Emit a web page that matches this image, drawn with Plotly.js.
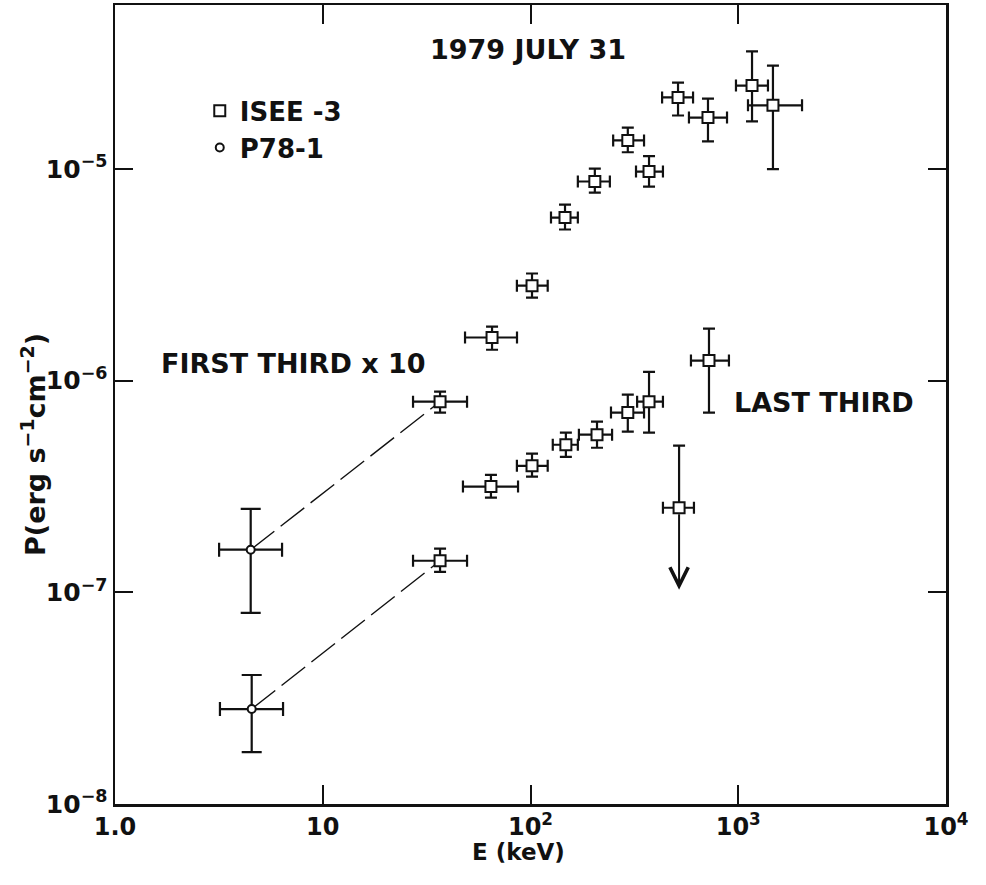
<!DOCTYPE html>
<html>
<head>
<meta charset="utf-8">
<script src="https://cdn.plot.ly/plotly-3.0.1.min.js"></script>
<style>html,body{margin:0;padding:0;background:#fff;}#chart{width:986px;height:885px;}</style>
</head>
<body>
<div id="chart"></div>
<script>
// ---- Data ----
// ISEE-3, first third of the burst (x 10)
var E_first    = [36.7, 65.3, 101.7, 146.6, 204, 294, 372, 513, 715, 1165, 1469];
var E_first_lo = [27.2, 48.4, 86, 125.5, 169, 250, 322, 430, 579, 975, 1114];
var E_first_hi = [49.5, 86.1, 121, 169, 241, 352, 434, 606, 883, 1390, 2028];
var P_first    = [7.96e-7, 1.60e-6, 2.81e-6, 5.90e-6, 8.73e-6, 1.365e-5, 9.73e-6, 2.18e-5, 1.75e-5, 2.48e-5, 2.0e-5];
var P_first_lo = [7.07e-7, 1.40e-6, 2.47e-6, 5.18e-6, 7.74e-6, 1.20e-5, 8.26e-6, 1.79e-5, 1.35e-5, 1.68e-5, 1.0e-5];
var P_first_hi = [8.87e-7, 1.80e-6, 3.21e-6, 6.79e-6, 1.005e-5, 1.57e-5, 1.15e-5, 2.56e-5, 2.15e-5, 3.60e-5, 3.08e-5];

// ISEE-3, last third of the burst
var E_last    = [36.7, 64.5, 101.7, 148, 209, 294, 372, 723];
var E_last_lo = [27.2, 47.3, 86, 128, 171, 244, 326, 592];
var E_last_hi = [49.5, 87.1, 121, 169, 247, 352, 434, 902];
var P_last    = [1.41e-7, 3.16e-7, 3.96e-7, 4.98e-7, 5.56e-7, 7.07e-7, 7.96e-7, 1.245e-6];
var P_last_lo = [1.25e-7, 2.80e-7, 3.52e-7, 4.37e-7, 4.82e-7, 5.74e-7, 5.68e-7, 7.07e-7];
var P_last_hi = [1.61e-7, 3.59e-7, 4.52e-7, 5.68e-7, 6.40e-7, 8.59e-7, 1.10e-6, 1.76e-6];

// ISEE-3, last third: upper limit point
var E_lim    = [519];
var E_lim_lo = [434];
var E_lim_hi = [612];
var P_lim    = [2.51e-7];
var P_lim_hi = [4.93e-7];
var P_lim_arrow = [1.03e-7];

// P78-1 (first third x10, last third)
var E_p78    = [4.5, 4.55];
var E_p78_lo = [3.17, 3.2];
var E_p78_hi = [6.37, 6.44];
var P_p78    = [1.59e-7, 2.81e-8];
var P_p78_lo = [8.0e-8, 1.76e-8];
var P_p78_hi = [2.48e-7, 4.07e-8];

// Tick labels
var xTickVals = [1, 10, 100, 1000, 10000];
var xTickText = ['1.0', '10', '10<sup>2</sup>', '10<sup>3</sup>', '10<sup>4</sup>'];
var yTickVals = [1e-8, 1e-7, 1e-6, 1e-5];
var yTickText = ['10<sup>\u22128</sup>', '10<sup>\u22127</sup>', '10<sup>\u22126</sup>', '10<sup>\u22125</sup>'];

// ---- helpers ----
function diff(a, b) { return a.map(function (v, i) { return Math.abs(v - b[i]); }); }
var FONT = 'DejaVu Sans, Verdana, sans-serif';
var black = '#111';

function errX(val, lo, hi, w) {
  return {type: 'data', symmetric: false, array: diff(hi, val), arrayminus: diff(val, lo),
          color: black, thickness: 2.2, width: w};
}
function errY(val, lo, hi, w) {
  return {type: 'data', symmetric: false, array: diff(hi, val), arrayminus: diff(val, lo),
          color: black, thickness: 2.2, width: w};
}
var sqMarker = {symbol: 'square', size: 11, color: '#fff', line: {color: black, width: 2}};
var ciMarker = {symbol: 'circle', size: 8, color: '#fff', line: {color: black, width: 2}};
var dashLine = {color: black, width: 1.4, dash: '30px,8px'};

var traces = [
  // dashed connecting lines (P78-1 to first ISEE-3 point)
  {x: [E_p78[0], E_first[0]], y: [P_p78[0], P_first[0]], mode: 'lines', showlegend: false,
   line: dashLine, hoverinfo: 'skip'},
  {x: [E_p78[1], E_last[0]], y: [P_p78[1], P_last[0]], mode: 'lines', showlegend: false,
   line: dashLine, hoverinfo: 'skip'},
  {x: E_first, y: P_first, mode: 'markers', name: 'ISEE -3', legendgroup: 'isee',
   marker: sqMarker, error_x: errX(E_first, E_first_lo, E_first_hi, 6),
   error_y: errY(P_first, P_first_lo, P_first_hi, 6)},
  {x: E_last, y: P_last, mode: 'markers', name: 'ISEE -3 last', legendgroup: 'isee', showlegend: false,
   marker: sqMarker, error_x: errX(E_last, E_last_lo, E_last_hi, 6),
   error_y: errY(P_last, P_last_lo, P_last_hi, 6)},
  {x: E_lim, y: P_lim, mode: 'markers', name: 'ISEE -3 limit', legendgroup: 'isee', showlegend: false,
   marker: sqMarker, error_x: errX(E_lim, E_lim_lo, E_lim_hi, 6),
   error_y: {type: 'data', symmetric: false, array: diff(P_lim_hi, P_lim), arrayminus: [0],
             color: black, thickness: 2.2, width: 6}},
  {x: E_p78, y: P_p78, mode: 'markers', name: 'P78-1',
   marker: ciMarker, error_x: errX(E_p78, E_p78_lo, E_p78_hi, 7),
   error_y: errY(P_p78, P_p78_lo, P_p78_hi, 10)}
];

var textFont = {family: FONT, size: 27, color: black, weight: 700};

var layout = {
  width: 986, height: 885,
  margin: {l: 115, r: 40, t: 5, b: 81},
  paper_bgcolor: '#fff', plot_bgcolor: '#fff',
  font: {family: FONT, color: black, weight: 700},
  title: {text: '1979 JULY 31', font: {family: FONT, size: 27, color: black, weight: 700},
          x: 528 / 986, xref: 'container', xanchor: 'center',
          y: 1 - 50 / 885, yref: 'container', yanchor: 'middle'},
  showlegend: true,
  legend: {x: 0.102, y: 0.897, xanchor: 'left', yanchor: 'top', bgcolor: 'rgba(0,0,0,0)',
           font: {family: FONT, size: 26, color: black, weight: 700}, tracegroupgap: 0},
  xaxis: {
    type: 'log', range: [0, 4], tickvals: xTickVals, ticktext: xTickText,
    ticks: 'inside', ticklen: 19, tickwidth: 2, tickcolor: black,
    showline: true, linewidth: 2.5, linecolor: black, mirror: 'ticks',
    showgrid: false, zeroline: false,
    tickfont: {family: FONT, size: 24, color: black, weight: 700},
    automargin: false
  },
  yaxis: {
    type: 'log', range: [-8, -4.225], tickvals: yTickVals, ticktext: yTickText,
    ticks: 'inside', ticklen: 18, tickwidth: 2, tickcolor: black,
    showline: true, linewidth: 2.5, linecolor: black, mirror: 'ticks',
    showgrid: false, zeroline: false,
    tickfont: {family: FONT, size: 25, color: black, weight: 700},
    automargin: false
  },
  annotations: [
    // axis titles
    {text: 'E (keV)', xref: 'paper', yref: 'paper', x: (518 - 115) / 831, y: -(852 - 804) / 799,
     xanchor: 'center', yanchor: 'middle', showarrow: false,
     font: {family: FONT, size: 23, color: black, weight: 700}},
    {text: 'P(erg s<sup>\u22121</sup>cm<sup>\u22122</sup>)', xref: 'paper', yref: 'paper',
     x: (33 - 115) / 831, y: (804 - 445) / 799, textangle: -90,
     xanchor: 'center', yanchor: 'middle', showarrow: false,
     font: {family: FONT, size: 27, color: black, weight: 700}},
    // in-plot labels
    {text: 'FIRST THIRD x 10', xref: 'paper', yref: 'paper', x: (293 - 115) / 831, y: (804 - 363) / 799,
     xanchor: 'center', yanchor: 'middle', showarrow: false, font: textFont},
    {text: 'LAST THIRD', xref: 'paper', yref: 'paper', x: (824 - 115) / 831, y: (804 - 402) / 799,
     xanchor: 'center', yanchor: 'middle', showarrow: false, font: textFont},
    // upper-limit arrow
    {text: '', xref: 'x', yref: 'y', axref: 'x', ayref: 'y',
     x: Math.log10(E_lim[0]), y: Math.log10(P_lim_arrow[0]),
     ax: Math.log10(E_lim[0]), ay: Math.log10(P_lim[0]),
     showarrow: true, arrowhead: 5, arrowsize: 1.8, arrowwidth: 2, arrowcolor: black,
     standoff: 0, startstandoff: 5}
  ]
};

Plotly.newPlot('chart', traces, layout, {displayModeBar: false, staticPlot: true});
</script>
</body>
</html>
